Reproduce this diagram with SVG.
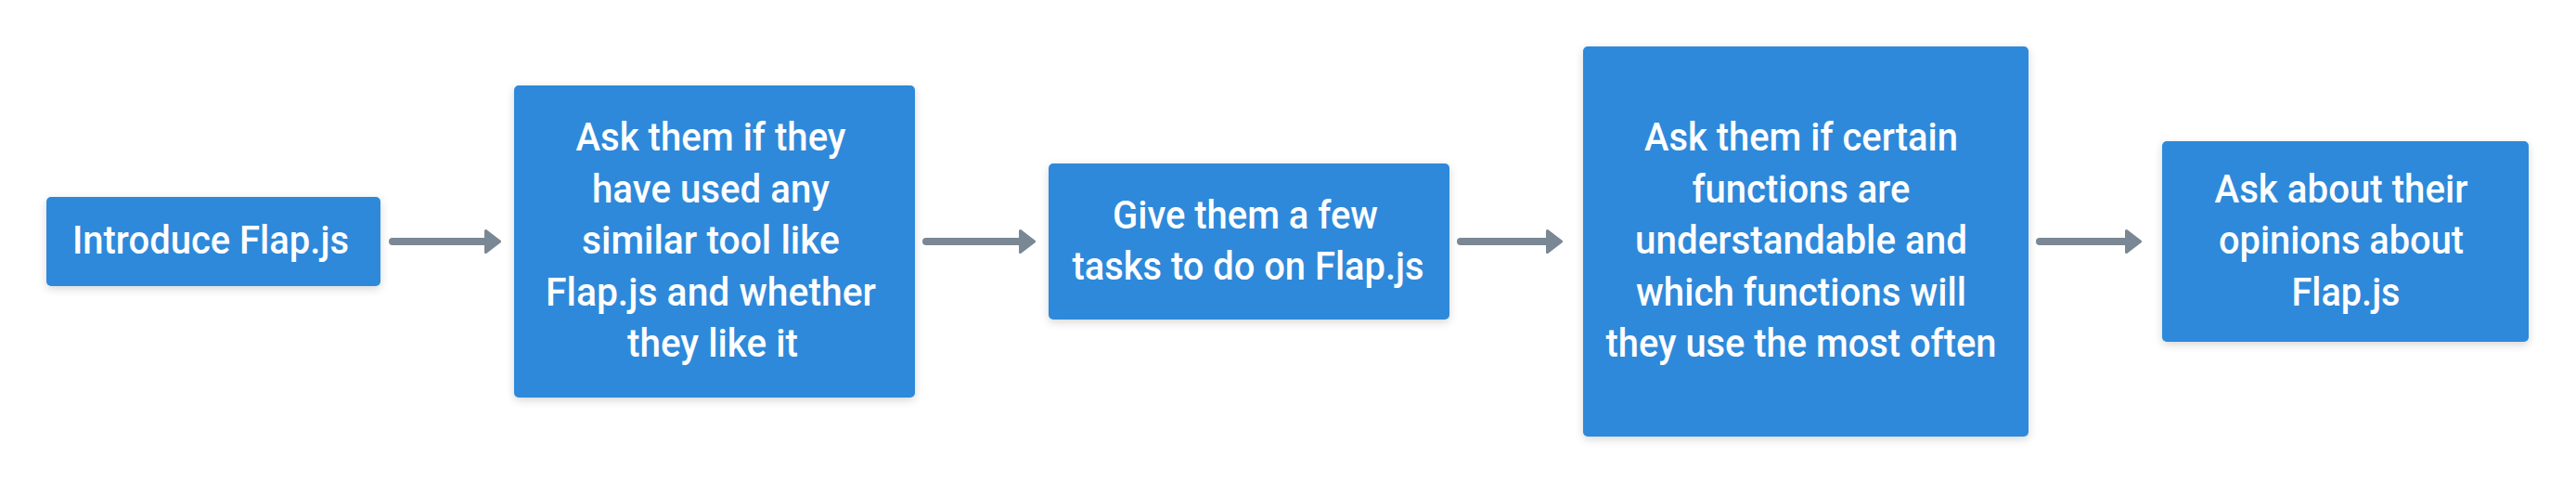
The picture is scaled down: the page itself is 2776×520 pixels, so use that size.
<svg xmlns="http://www.w3.org/2000/svg" width="2776" height="520" viewBox="0 0 2776 520">
<style>
.box{fill:#2e89da;filter:url(#sh)}
.lbl{font-family:Roboto,"Liberation Sans",Arial,sans-serif;font-weight:500;font-size:42px;fill:#ffffff;text-anchor:middle}
.shaft{stroke:#7a8794;stroke-width:8;stroke-linecap:round;fill:none}
.head{fill:#7a8794;stroke:#7a8794;stroke-width:3;stroke-linejoin:round}
</style>
<defs>
<filter id="sh" x="-20%" y="-20%" width="140%" height="140%">
<feDropShadow dx="0" dy="3" stdDeviation="5" flood-color="#000000" flood-opacity="0.16"/>
</filter>
</defs>
<rect width="2776" height="520" fill="#ffffff"/>
<g id="connectors">
<line class="shaft" x1="423" y1="260" x2="526" y2="260"/>
<polygon class="head" points="523.5,248.5 538.5,260 523.5,271.5"/>
<line class="shaft" x1="998" y1="260" x2="1102" y2="260"/>
<polygon class="head" points="1099.5,248.5 1114.5,260 1099.5,271.5"/>
<line class="shaft" x1="1574" y1="260" x2="1670" y2="260"/>
<polygon class="head" points="1667.5,248.5 1682.5,260 1667.5,271.5"/>
<line class="shaft" x1="2198" y1="260" x2="2294" y2="260"/>
<polygon class="head" points="2291.5,248.5 2306.5,260 2291.5,271.5"/>
</g>
<g id="node1">
<rect class="box" x="50" y="212" width="360" height="96" rx="5"/>
<text class="lbl" x="227" y="273" textLength="298" lengthAdjust="spacingAndGlyphs">Introduce Flap.js</text>
</g>
<g id="node2">
<rect class="box" x="554" y="92" width="432" height="336" rx="5"/>
<text class="lbl" x="766" y="162" textLength="291" lengthAdjust="spacingAndGlyphs">Ask them if they</text>
<text class="lbl" x="766" y="217.5" textLength="256" lengthAdjust="spacingAndGlyphs">have used any</text>
<text class="lbl" x="766" y="273" textLength="278" lengthAdjust="spacingAndGlyphs">similar tool like</text>
<text class="lbl" x="766" y="328.5" textLength="356" lengthAdjust="spacingAndGlyphs">Flap.js and whether</text>
<text class="lbl" x="768" y="384" textLength="184" lengthAdjust="spacingAndGlyphs">they like it</text>
</g>
<g id="node3">
<rect class="box" x="1130" y="176" width="432" height="168" rx="5"/>
<text class="lbl" x="1342" y="245.5" textLength="286" lengthAdjust="spacingAndGlyphs">Give them a few</text>
<text class="lbl" x="1345" y="301" textLength="379" lengthAdjust="spacingAndGlyphs">tasks to do on Flap.js</text>
</g>
<g id="node4">
<rect class="box" x="1706" y="50" width="480" height="420" rx="5"/>
<text class="lbl" x="1941" y="162" textLength="338" lengthAdjust="spacingAndGlyphs">Ask them if certain</text>
<text class="lbl" x="1941" y="217.5" textLength="235" lengthAdjust="spacingAndGlyphs">functions are</text>
<text class="lbl" x="1941" y="273" textLength="358" lengthAdjust="spacingAndGlyphs">understandable and</text>
<text class="lbl" x="1941" y="328.5" textLength="356" lengthAdjust="spacingAndGlyphs">which functions will</text>
<text class="lbl" x="1941" y="384" textLength="421" lengthAdjust="spacingAndGlyphs">they use the most often</text>
</g>
<g id="node5">
<rect class="box" x="2330" y="152" width="395" height="216" rx="5"/>
<text class="lbl" x="2523" y="217.5" textLength="273" lengthAdjust="spacingAndGlyphs">Ask about their</text>
<text class="lbl" x="2523" y="273" textLength="264" lengthAdjust="spacingAndGlyphs">opinions about</text>
<text class="lbl" x="2528" y="328.5" textLength="117" lengthAdjust="spacingAndGlyphs">Flap.js</text>
</g>
</svg>
